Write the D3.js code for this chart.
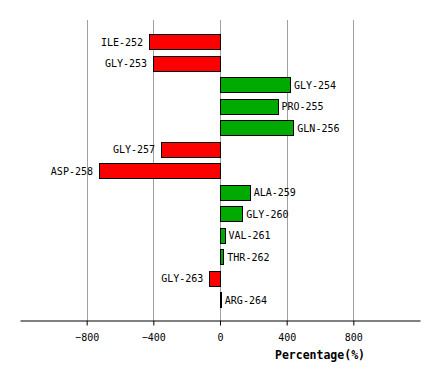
<!DOCTYPE html>
<html>
<head>
<meta charset="utf-8">
<script src="https://cdn.jsdelivr.net/npm/d3@7"></script>
<style>
  body { margin: 0; background: #fff; }
</style>
</head>
<body>
<svg id="chart"></svg>
<script>
var residues = ["ILE-252", "GLY-253", "GLY-254", "PRO-255", "GLN-256", "GLY-257", "ASP-258",
  "ALA-259", "GLY-260", "VAL-261", "THR-262", "GLY-263", "ARG-264"];
var percentages = [-425, -401, 420, 345, 440, -353, -726, 178, 134, 27, 20, -64, 5];
var tickValues = [-800, -400, 0, 400, 800];

var data = residues.map(function (r, i) {
  return { name: r, value: percentages[i] };
});

var width = 440, height = 380;
var svg = d3.select("#chart")
  .attr("width", width)
  .attr("height", height);

var x = d3.scaleLinear()
  .domain([-1200, 1200])
  .range([20, 420]);

var y = d3.scaleBand()
  .domain(residues)
  .range([31.25, 310.75])
  .paddingInner(0.3)
  .paddingOuter(0.15);

// grid
svg.selectAll(".grid")
  .data(tickValues)
  .enter()
  .append("line")
  .attr("x1", function (d) { return Math.round(x(d)) + 0.5; })
  .attr("x2", function (d) { return Math.round(x(d)) + 0.5; })
  .attr("y1", 20)
  .attr("y2", 320)
  .attr("stroke", "#a0a0a0")
  .attr("stroke-width", 1);

// bars
svg.selectAll(".bar")
  .data(data)
  .enter()
  .append("rect")
  .attr("x", function (d) { return Math.round(x(Math.min(0, d.value))) + 0.5; })
  .attr("y", function (d) { return Math.round(y(d.name)) + 0.5; })
  .attr("width", function (d) { return Math.max(1, Math.round(Math.abs(x(d.value) - x(0)))); })
  .attr("height", Math.round(y.bandwidth()))
  .attr("fill", function (d) { return d.value < 0 ? "#ff0000" : "#00aa00"; })
  .attr("stroke", "#000")
  .attr("stroke-width", 1);

// labels
svg.selectAll(".label")
  .data(data)
  .enter()
  .append("text")
  .attr("x", function (d) { return d.value < 0 ? x(d.value) - 6 : x(d.value) + 4; })
  .attr("y", function (d) { return y(d.name) + y.bandwidth() / 2; })
  .attr("dy", "0.35em")
  .attr("text-anchor", function (d) { return d.value < 0 ? "end" : "start"; })
  .style("font-family", "DejaVu Sans Mono")
  .style("font-size", "10px")
  .attr("fill", "#000")
  .text(function (d) { return d.name; });

// x axis
var axis = svg.append("g")
  .attr("transform", "translate(0,320.5)")
  .call(d3.axisBottom(x).tickValues(tickValues).tickSize(5).tickSizeOuter(0));
axis.select(".domain").attr("stroke", "#000");
axis.selectAll(".tick line").attr("stroke", "#000");
axis.selectAll(".tick text")
  .attr("y", 13)
  .style("font-family", "DejaVu Sans Mono")
  .style("font-size", "10px")
  .attr("fill", "#000");

svg.append("text")
  .attr("x", 320)
  .attr("y", 359)
  .attr("text-anchor", "middle")
  .style("font-family", "DejaVu Sans Mono")
  .style("font-size", "11.5px")
  .style("font-weight", "bold")
  .text("Percentage(%)");
</script>
</body>
</html>
